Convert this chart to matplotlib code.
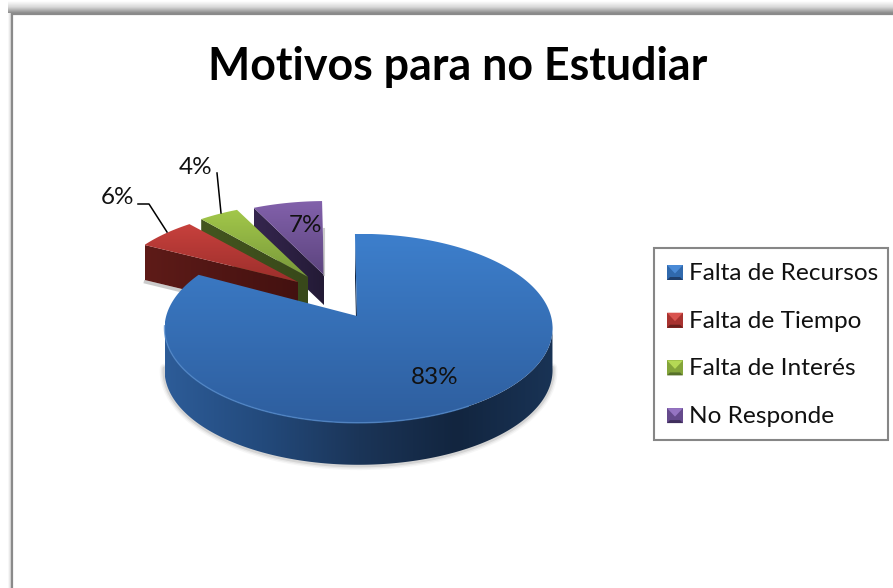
import numpy as np
import matplotlib
matplotlib.use("Agg")
import matplotlib.pyplot as plt
from matplotlib.patches import Polygon, Rectangle
from matplotlib.colors import LinearSegmentedColormap

title = "Motivos para no Estudiar"
categories = ["Falta de Recursos", "Falta de Tiempo", "Falta de Interés", "No Responde"]
values = [83, 6, 4, 7]

W, H = 893, 588
FONT = "Lato"
fig = plt.figure(figsize=(W / 100, H / 100), dpi=100, facecolor="white")
ax = fig.add_axes([0, 0, 1, 1])
ax.set_axis_off()

z = [10]
def nz():
    z[0] += 1
    return z[0]

def grad(pts, colors, vertical=True):
    pts = np.asarray(pts)
    x0, y0 = pts.min(axis=0)
    x1, y1 = pts.max(axis=0)
    cmap = LinearSegmentedColormap.from_list("g", colors)
    ramp = np.linspace(0, 1, 256)
    arr = ramp[:, None] if vertical else ramp[None, :]
    im = ax.imshow(arr, cmap=cmap, extent=(x0, x1, y1, y0), origin="upper",
                   aspect="auto", zorder=nz(), interpolation="bilinear")
    clip = Polygon(pts, closed=True, transform=ax.transData)
    im.set_clip_path(clip)
    return im

def band(x0, x1, y0, y1, colors, vertical=True):
    cmap = LinearSegmentedColormap.from_list("b", colors)
    ramp = np.linspace(0, 1, 64)
    arr = ramp[:, None] if vertical else ramp[None, :]
    ax.imshow(arr, cmap=cmap, extent=(x0, x1, y1, y0), origin="upper",
              aspect="auto", zorder=nz(), interpolation="bilinear")

# chart frame with its soft shadow
band(8, W, 1, 13, ["#ffffff", "#d8d8d8", "#8c8c8c"])
band(8, 12, 13, H, ["#ffffff", "#c8c8c8"], vertical=False)
ax.add_patch(Polygon([(12, H), (12, 14), (W, 14)], closed=False, fill=False,
                     ec="#8a8a8a", lw=1.6, zorder=nz()))

# pie geometry
OFF = np.array([-0.008, 0.13])
TILT = -0.7

def outline(a0, a1, apex, rx, ry, n=200):
    th = np.radians(np.linspace(a0, a1, n))
    d = np.c_[np.sin(th), np.cos(th)]
    b = d @ OFF
    t = -b + np.sqrt(b ** 2 - (OFF @ OFF - 1))
    rel = t[:, None] * d
    return np.c_[apex[0] + rx * rel[:, 0], apex[1] - ry * rel[:, 1]]

edges = np.cumsum([0] + values) / sum(values) * 360 + TILT

tops = [["#3d7fcc", "#2e5e9e"], ["#c7413d", "#9c2e2b"],
        ["#a3c84a", "#78983a"], ["#8261ab", "#5c447e"]]
sides = [["#2d5c98", "#234a7c", "#1b3558", "#12253f", "#193355"],
         ["#5e1b18", "#431110"], ["#44561f", "#38481a"], ["#35264e", "#231a35"]]
apexes = [(357, 316), (298, 282), (308, 277), (324, 275)]
radii = [(194, 94.5), (188, 85), (185, 85), (183, 85)]
depths = [42, 35, 30, 30]

# exploded slices, back to front
for i in (3, 2, 1):
    arc = outline(edges[i], edges[i + 1], apexes[i], *radii[i])
    a = np.array(apexes[i], float)
    dp = np.array([0, depths[i]])
    cut = [arc[0], a, a + dp, arc[0] + dp]
    if i == 1:
        ax.plot([arc[0][0] + 1, a[0]], [arc[0][1] + dp[1] + 2, a[1] + dp[1] + 2],
                color="#999999", lw=2.5, alpha=0.5, zorder=nz())
    grad(cut, sides[i], vertical=False)
    grad(np.vstack([a, arc]), tops[i])
    if i == 3:
        ax.plot([arc[-1][0] + 1.5] * 2, [arc[-1][1] + 28, a[1]], color="#aaaaaa",
                lw=1.5, alpha=0.6, zorder=nz())

# main slice
a = np.array(apexes[0], float)
arc = outline(edges[0], edges[1], a, *radii[0], n=500)
cy = arc[:, 1].min() + radii[0][1]
front = arc[arc[:, 1] >= cy - 3]
dp = np.array([0, depths[0]])
side = np.vstack([front, front[::-1] + dp])
lower = front + dp
zs = nz()
for lw, al in ((7, 0.05), (5, 0.08), (3, 0.14)):
    ax.plot(lower[:, 0], lower[:, 1] + 0.5, color="#555555", lw=lw, alpha=al,
            zorder=zs, solid_capstyle="round")
grad([arc[0], a, a + dp, arc[0] + dp], ["#12253f", "#1a3050"], vertical=False)
grad(side, sides[0], vertical=False)
grad(np.vstack([a, arc]), tops[0])
rim = front[(front[:, 0] < 470)]
ax.plot(rim[:, 0], rim[:, 1], color="#4f86c8", lw=1.1, alpha=0.75, zorder=nz())

# title and data labels
ax.text(458, 67.5, title, ha="center", va="center", fontsize=32.2, fontweight="bold",
        family=FONT, color="black", zorder=nz())
label_pos = [(435, 378), (117, 198), (196, 167), (305, 225)]
for v, (x, y) in zip(values, label_pos):
    ax.text(x, y, f"{v}%", ha="center", va="center", fontsize=17.5, family=FONT,
            color="#111111", zorder=nz())
for xs, ys in (((138, 149, 167), (204, 204, 232)), ((217, 221), (173, 213))):
    ax.plot(xs, ys, color="black", lw=1.1, zorder=nz())

# legend
ax.add_patch(Rectangle((654, 248), 234, 192, fc="white", ec="#868686", lw=1.5, zorder=nz()))
key_cols = [("#4a8ad6", "#3069ad", "#1f3f6c"), ("#d9534f", "#a8322f", "#6b1f1c"),
            ("#b5d955", "#84a53a", "#56702a"), ("#9574c2", "#654a8c", "#3f2e5c")]
for i, (name, cols) in enumerate(zip(categories, key_cols)):
    yc = 272.5 + i * 47.7
    x0, x1, y0, y1 = 667, 683, yc - 7.5, yc + 7.5
    xm, ym = (x0 + x1) / 2, yc + 1
    ax.add_patch(Polygon([(x0, y0), (x1, y0), (x1, y1), (x0, y1)], fc=cols[1], ec="none", zorder=nz()))
    ax.add_patch(Polygon([(x0, y0), (x1, y0), (xm, ym)], fc=cols[0], ec="none", zorder=nz()))
    ax.add_patch(Polygon([(x0, y1), (x1, y1), (xm + 5, y1 - 3), (xm - 5, y1 - 3)], fc=cols[2], ec="none", zorder=nz()))
    ax.text(689, yc + 1, name, ha="left", va="center", fontsize=17.55, family=FONT,
            color="#111111", zorder=nz())

ax.set_xlim(0, W)
ax.set_ylim(H, 0)
fig.savefig("out.png", dpi=100, facecolor="white")
